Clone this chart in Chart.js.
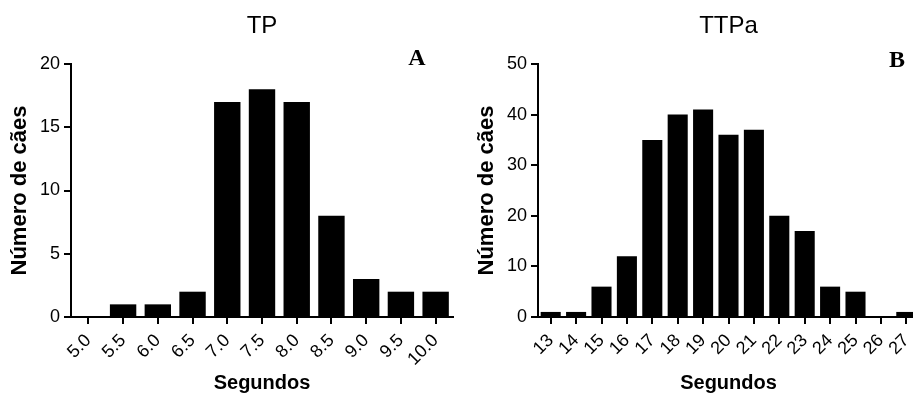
<!DOCTYPE html>
<html><head><meta charset="utf-8">
<script src="https://cdn.jsdelivr.net/npm/chart.js@4.4.1/dist/chart.umd.min.js"></script>
<style>
html,body{margin:0;padding:0;background:#fff;overflow:hidden;width:913px;height:399px}
#w{position:relative;width:913px;height:399px;overflow:hidden;background:#fff}
#c1{position:absolute;left:0;top:0}
#c2{position:absolute;left:460px;top:0}
</style></head><body>
<div id="w"><canvas id="c1" width="460" height="399"></canvas><canvas id="c2" width="470" height="399"></canvas></div>
<script>
// ---- data ----
const tpLabels = ['5.0','5.5','6.0','6.5','7.0','7.5','8.0','8.5','9.0','9.5','10.0'];
const tpCounts = [0,1,1,2,17,18,17,8,3,2,2];
const tpYTicks = [0,5,10,15,20];

const ttpaLabels = ['13','14','15','16','17','18','19','20','21','22','23','24','25','26','27'];
const ttpaCounts = [1,1,6,12,35,40,41,36,37,20,17,6,5,0,1];
const ttpaYTicks = [0,10,20,30,40,50];

const chartTitles = ['TP','TTPa'];
const panelLetters = ['A','B'];
const xTitle = 'Segundos';
const yTitle = 'Número de cães';

const SANS = "'Liberation Sans', Arial, sans-serif";
const SERIF = "'Liberation Serif', 'Times New Roman', serif";

const panelLetterPlugin = {
  id: 'panelLetter',
  afterDraw(chart, args, opts) {
    const ctx = chart.ctx;
    ctx.save();
    ctx.font = 'bold 24px ' + SERIF;
    ctx.fillStyle = '#000';
    ctx.textAlign = 'center';
    ctx.textBaseline = 'middle';
    ctx.fillText(opts.text, chart.chartArea.right + opts.dx, chart.chartArea.top + opts.dy);
    ctx.restore();
  }
};

function makeChart(canvasId, labels, counts, yTicks, title, letter, cfg) {
  const axisStyle = {
    color: '#000', lineWidth: 2, drawOnChartArea: false, drawTicks: true, tickLength: 7
  };
  return new Chart(document.getElementById(canvasId), {
    type: 'bar',
    data: {
      labels: labels,
      datasets: [{
        data: counts,
        backgroundColor: '#000',
        borderWidth: 0,
        barPercentage: cfg.barPct,
        categoryPercentage: 1.0
      }]
    },
    options: {
      responsive: false,
      animation: false,
      devicePixelRatio: 1,
      layout: { padding: { left: 0, right: cfg.padRight, top: 0, bottom: 0 } },
      plugins: {
        legend: { display: false },
        tooltip: { enabled: false },
        title: { display: false },
        panelLetter: { text: letter, dx: cfg.letterDx, dy: cfg.letterDy }
      },
      scales: {
        x: {
          type: 'category',
          position: 'bottom',
          offset: true,
          grid: Object.assign({ offset: false }, axisStyle),
          border: { display: true, color: '#000', width: 2 },
          ticks: {
            color: '#000', font: { family: SANS, size: 18 },
            minRotation: 45, maxRotation: 45, autoSkip: false, padding: 6
          },
          title: {
            display: true, text: xTitle, color: '#000',
            font: { family: SANS, size: 20, weight: 'bold' },
            padding: { top: 0, bottom: 4 }
          },
          afterFit(s) { s.height = 82; }
        },
        x2: {
          type: 'category',
          position: 'top',
          display: true,
          grid: { display: false },
          border: { display: false },
          ticks: { display: false },
          title: {
            display: true, text: title, color: '#000',
            font: { family: SANS, size: 24, weight: 'normal' },
            padding: { top: 12, bottom: 0 }
          },
          afterFit(s) { s.height = 64; }
        },
        y: {
          type: 'linear',
          position: 'left',
          min: yTicks[0],
          max: yTicks[yTicks.length - 1],
          grid: axisStyle,
          border: { display: true, color: '#000', width: 2 },
          ticks: {
            stepSize: yTicks[1] - yTicks[0],
            color: '#000', font: { family: SANS, size: 18 }, padding: 4
          },
          title: {
            display: true, text: yTitle, color: '#000',
            font: { family: SANS, size: 22, weight: 'bold' },
            padding: { top: cfg.yTitlePad, bottom: 0 }
          },
          afterFit(s) { s.width = cfg.yWidth; }
        }
      }
    },
    plugins: [panelLetterPlugin]
  });
}

makeChart('c1', tpLabels, tpCounts, tpYTicks, chartTitles[0], panelLetters[0],
  { barPct: 0.76, padRight: 7, yWidth: 71, yTitlePad: 7, letterDx: -36, letterDy: -5 });
makeChart('c2', ttpaLabels, ttpaCounts, ttpaYTicks, chartTitles[1], panelLetters[1],
  { barPct: 0.79, padRight: 11, yWidth: 78, yTitlePad: 14, letterDx: -22, letterDy: -3 });
</script>
</body></html>
